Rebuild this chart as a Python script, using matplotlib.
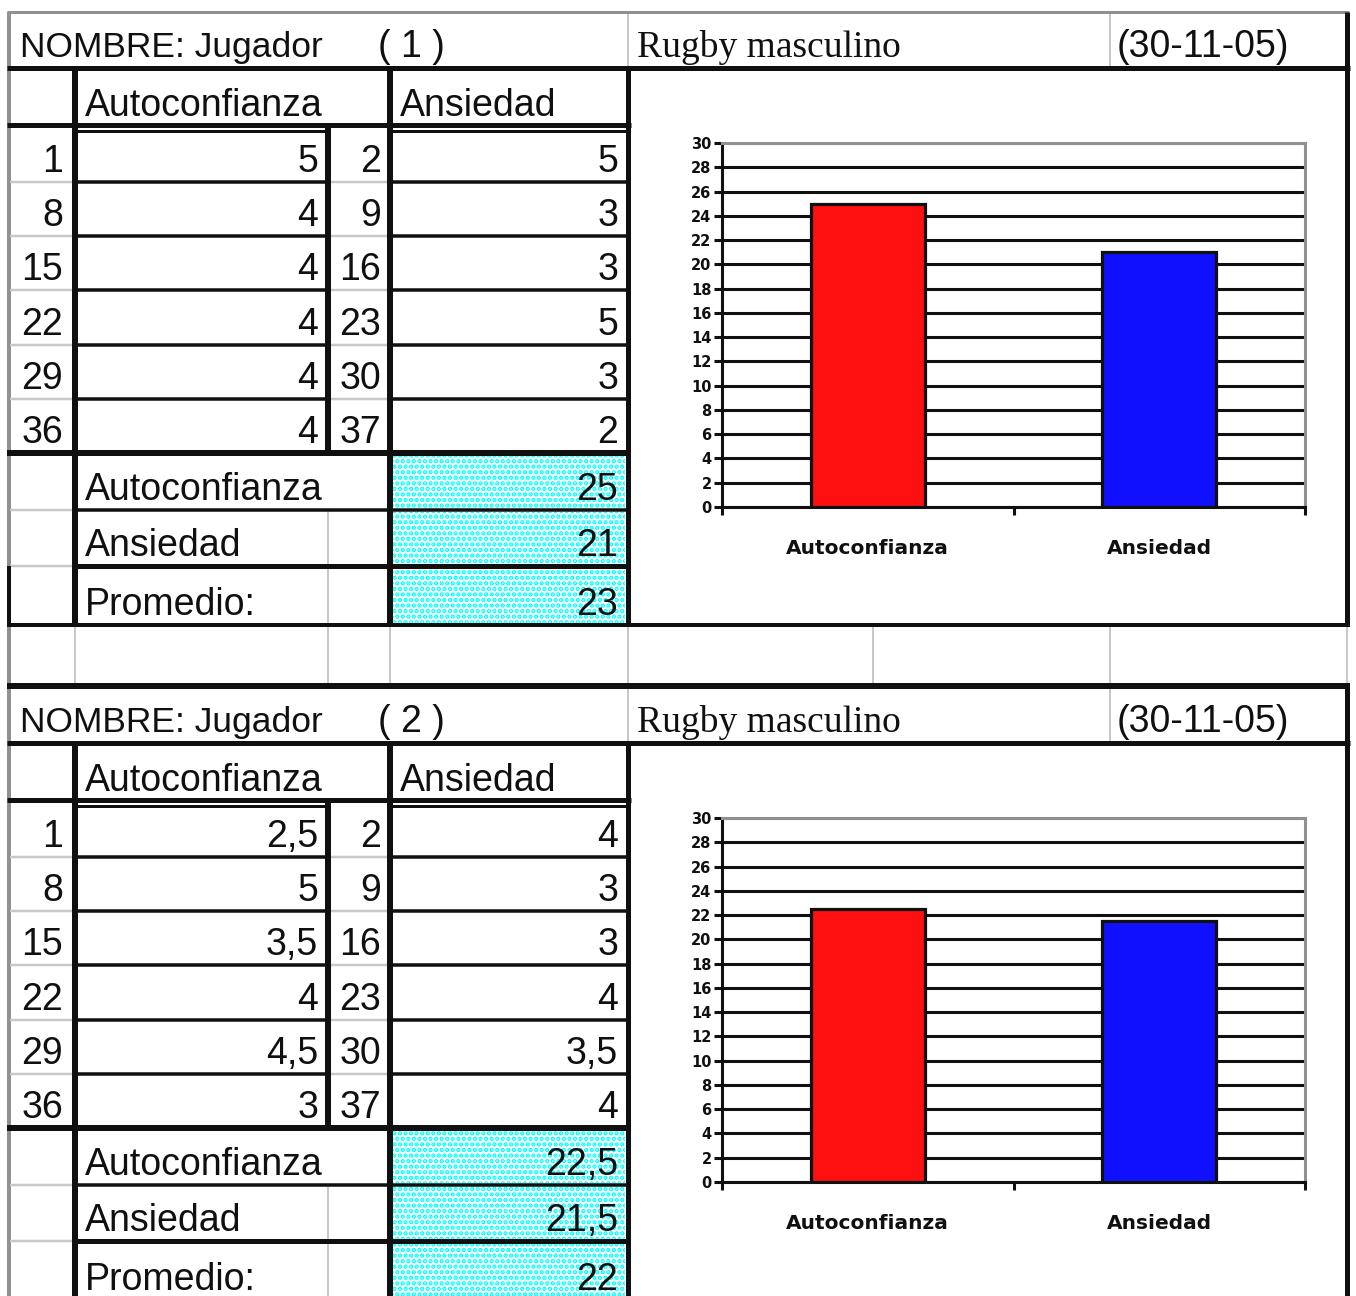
import matplotlib
matplotlib.use('Agg')
import matplotlib.pyplot as plt
from matplotlib.patches import Rectangle

# ---------------- data ----------------
items_auto = [1, 8, 15, 22, 29, 36]
items_ans = [2, 9, 16, 23, 30, 37]
players = ['( 1 )', '( 2 )']
auto_scores = [[5, 4, 4, 4, 4, 4], [2.5, 5, 3.5, 4, 4.5, 3]]
ans_scores = [[5, 3, 3, 5, 3, 2], [4, 3, 3, 4, 3.5, 4]]
total_auto = [25, 22.5]
total_ans = [21, 21.5]
promedio = [23, 22]
categories = ['Autoconfianza', 'Ansiedad']
summary_labels = ['Autoconfianza', 'Ansiedad', 'Promedio:']
bar_colors = ['#ff1010', '#1010ff']
sport = 'Rugby masculino'
date = '(30-11-05)'
yticks = list(range(0, 31, 2))

# ---------------- style ----------------
W, H = 1356, 1296
BLACK = '#101010'
LGRAY = '#c8c8c8'
DGRAY = '#909090'
SANS = ['Liberation Sans', 'DejaVu Sans']
SERIF = ['Liberation Serif', 'DejaVu Serif']
FS = 27
plt.rcParams['hatch.linewidth'] = 2.2


def fmt(v):
    if float(v) == int(v):
        return str(int(v))
    return str(v).replace('.', ',')


fig = plt.figure(figsize=(W / 100, H / 100), dpi=100)
ax0 = fig.add_axes([0, 0, 1, 1])
ax0.set_xlim(0, W)
ax0.set_ylim(H, 0)
ax0.axis('off')


def hl(y, x0, x1, px, c=BLACK, z=2):
    ax0.plot([x0, x1], [y, y], color=c, lw=px * 0.72, solid_capstyle='butt', zorder=z)


def vl(x, y0, y1, px, c=BLACK, z=2):
    ax0.plot([x, x], [y0, y1], color=c, lw=px * 0.72, solid_capstyle='butt', zorder=z)


def txt(x, y, s, ha='left', fam=SANS, size=FS):
    ax0.text(x, y, s, ha=ha, va='baseline', fontsize=size, family=fam, color=BLACK, zorder=5)


row_lines = [182, 236, 290, 345, 399]
row_bottoms = [182, 236, 290, 345, 399, 453]
sum_bottoms = [510, 566, 625]

for b in range(2):
    off = 0 if b == 0 else 675
    Y = lambda y: y + off

    # left border
    vl(9, Y(12), Y(625), 4, DGRAY, 1)
    if b == 0:
        vl(9, Y(566), Y(625), 4, BLACK)
    # title row
    if b == 0:
        hl(12, 7, 1349, 3, DGRAY)
    else:
        hl(Y(11), 7, 1350, 6)
    vl(628, Y(12), Y(68), 2, LGRAY, 1)
    vl(1110, Y(12), Y(68), 2, LGRAY, 1)
    hl(Y(68), 7, 1350, 5)
    vl(1347, Y(12), Y(625), 5)
    # header row
    vl(75, Y(68), Y(625), 6)
    vl(390, Y(68), Y(625), 6)
    vl(628, Y(68), Y(625), 5)
    hl(Y(125), 7, 631, 5)
    hl(Y(131), 75, 326, 3)
    hl(Y(131), 392, 628, 3)
    vl(328, Y(125), Y(453), 6)
    # data rows
    for y in row_lines:
        hl(Y(y), 75, 328, 3.5)
        hl(Y(y), 390, 628, 3.5)
        hl(Y(y), 10, 75, 2.5, LGRAY, 1)
        hl(Y(y), 328, 390, 2.5, LGRAY, 1)
    hl(Y(453), 7, 631, 6)
    # summary rows
    hl(Y(510), 75, 628, 3.5)
    hl(Y(510), 10, 75, 2.5, LGRAY, 1)
    hl(Y(566), 75, 628, 5)
    hl(Y(566), 10, 75, 2.5, LGRAY, 1)
    hl(Y(625), 7, 1350, 4)
    vl(328, Y(510), Y(625), 2, LGRAY, 1)
    for y0, y1 in [(455, 508), (512, 564), (568, 623)]:
        ax0.add_patch(Rectangle((393, Y(y0)), 232, y1 - y0, facecolor='white',
                                edgecolor='#00ffff', hatch='...', linewidth=0, zorder=1.5))

    # texts
    txt(20, Y(57), 'NOMBRE: Jugador', size=25.5)
    txt(378, Y(57), players[b])
    txt(637, Y(57), sport, fam=SERIF)
    txt(1117, Y(57), date)
    txt(85, Y(116), 'Autoconfianza')
    txt(400, Y(116), 'Ansiedad')
    for i in range(6):
        yb = Y(row_bottoms[i] - 10)
        txt(63, yb, str(items_auto[i]), ha='right')
        txt(318, yb, fmt(auto_scores[b][i]), ha='right')
        txt(381, yb, str(items_ans[i]), ha='right')
        txt(618, yb, fmt(ans_scores[b][i]), ha='right')
    sums = [total_auto[b], total_ans[b], promedio[b]]
    for i in range(3):
        yb = Y(sum_bottoms[i] - 10)
        txt(85, yb, summary_labels[i])
        txt(618, yb, fmt(sums[i]), ha='right')

    # bar chart
    left, right, top, bottom = 722, 1305, Y(143), Y(507)
    cax = fig.add_axes([left / W, 1 - bottom / H, (right - left) / W, (bottom - top) / H])
    cax.set_zorder(3)
    cax.set_facecolor('white')
    cax.bar([0, 1], [total_auto[b], total_ans[b]], width=0.39, color=bar_colors,
            edgecolor=BLACK, linewidth=2.3, zorder=3)
    cax.set_xlim(-0.5, 1.5)
    cax.set_ylim(0, 30)
    cax.set_axisbelow(True)
    cax.yaxis.grid(True, color=BLACK, linewidth=2.2)
    cax.set_yticks(yticks)
    cax.set_yticklabels([str(t) for t in yticks], fontsize=10.5, fontweight='bold',
                        family='DejaVu Sans', color=BLACK)
    cax.tick_params(axis='y', length=6, width=2.2, color=BLACK, pad=1.5)
    cax.set_xticks([-0.5, 0.5, 1.5])
    cax.set_xticklabels(['', '', ''])
    cax.tick_params(axis='x', which='major', length=6, width=2.2, color=BLACK)
    cax.set_xticks([0, 1], minor=True)
    cax.set_xticklabels(categories, minor=True, fontsize=14.5, fontweight='bold',
                        family='DejaVu Sans', color=BLACK)
    cax.tick_params(axis='x', which='minor', length=0, pad=23)
    for s in ['top', 'right']:
        cax.spines[s].set_color(DGRAY)
        cax.spines[s].set_linewidth(2.2)
    for s in ['left', 'bottom']:
        cax.spines[s].set_color(BLACK)
        cax.spines[s].set_linewidth(2.2)

# gap row between blocks
for x in [75, 328, 390, 628, 873, 1110, 1347]:
    vl(x, 625, 685, 2, LGRAY, 1)
vl(9, 625, 685, 4, DGRAY, 1)

fig.savefig('out.png', dpi=100)
